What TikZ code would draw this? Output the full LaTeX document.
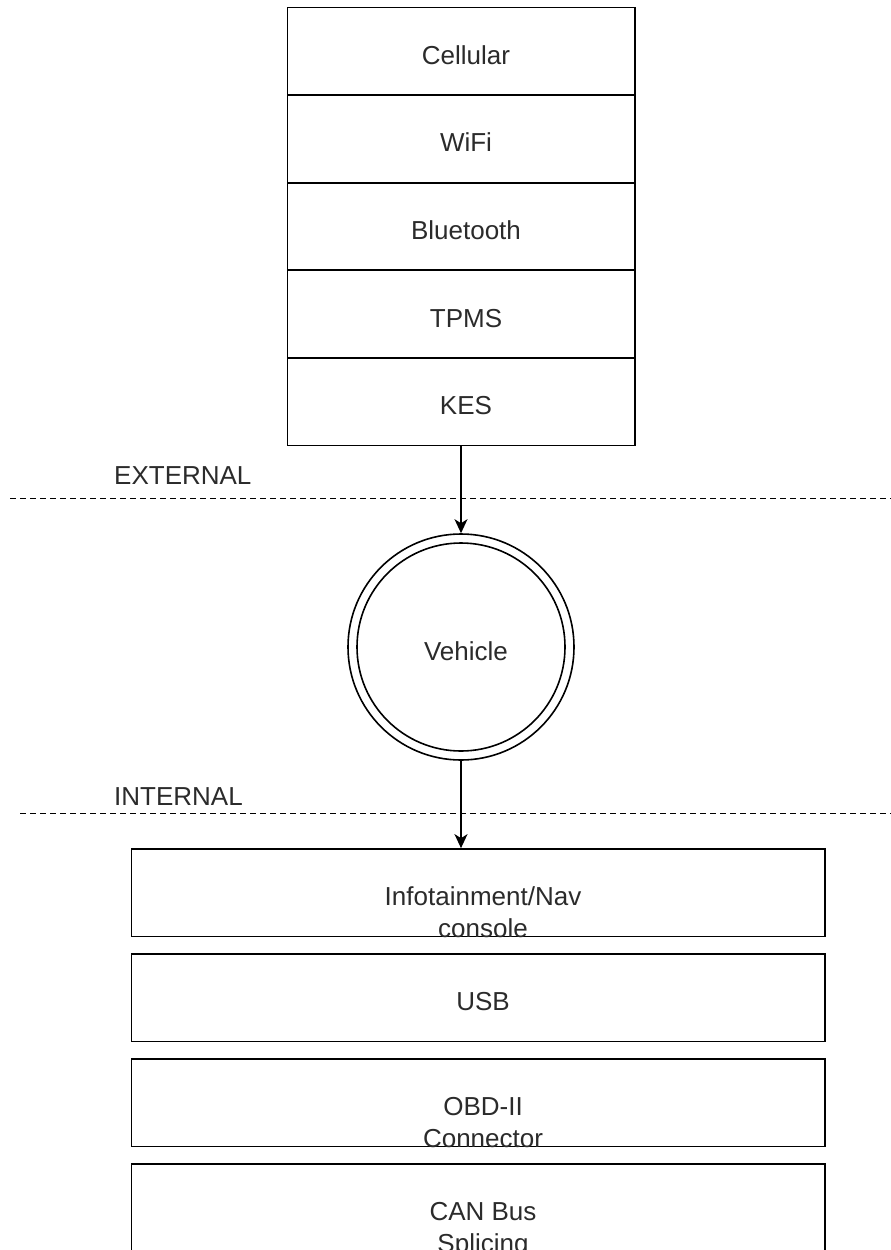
\documentclass[tikz,border=0pt]{standalone}
\usepackage{fontspec}
\setmainfont{Liberation Sans}
\usetikzlibrary{arrows.meta}
\definecolor{inkline}{HTML}{000000}
\definecolor{inktext}{HTML}{2B2B2B}

\begin{document}
\begin{tikzpicture}[x=1pt,y=-1pt,
  layer/.style={draw=inkline, line width=1.7pt, rectangle, inner sep=0pt,
    minimum width=347.5pt, minimum height=87.6pt},
  port/.style={draw=inkline, line width=1.7pt, rectangle, inner sep=0pt,
    minimum width=693.5pt, minimum height=87.6pt},
  hub/.style={draw=inkline, line width=1.6pt, circle, inner sep=0pt,
    minimum size=226pt},
  lbl/.style={anchor=base, text=inktext, inner sep=0pt,
    font=\fontsize{26}{31.3}\selectfont},
  flow/.style={draw=inkline, line width=1.7pt,
    -{Stealth[length=14pt,width=13pt,inset=4pt]}},
  zone/.style={draw=inkline, line width=1.4pt, dash pattern=on 5.5pt off 4.5pt}]

  % canvas
  \useasboundingbox (0,0) rectangle (891,1250);
  \fill[white] (0,0) rectangle (891,1250);

  % external interfaces stack
  \node[layer] (cell) at (461.25,51.3)  {};
  \node[layer] (wifi) at (461.25,138.9) {};
  \node[layer] (bt)   at (461.25,226.5) {};
  \node[layer] (tpms) at (461.25,314.1) {};
  \node[layer] (kes)  at (461.25,401.7) {};
  \node[lbl] (cellT) at (466,64.3)  {Cellular};
  \node[lbl] (wifiT) at (466,151.9) {WiFi};
  \node[lbl] (btT)   at (466,239.5) {Bluetooth};
  \node[lbl] (tpmsT) at (466,327.1) {TPMS};
  \node[lbl] (kesT)  at (466,414.7) {KES};

  % trust boundaries
  \coordinate (extL) at (10,498.3);
  \coordinate (extR) at (891,498.3);
  \coordinate (intL) at (20,813.3);
  \coordinate (intR) at (891,813.3);
  \draw[zone] (extL) -- (extR);
  \draw[zone] (intL) -- (intR);
  \node[lbl, anchor=base west] (extT) at (114,484) {EXTERNAL};
  \node[lbl, anchor=base west] (intT) at (114,805.7) {INTERNAL};

  % vehicle
  \node[hub] (veh) at (461,647) {};
  \draw[inkline, line width=1.6pt] (veh.center) circle (104);
  \node[lbl] (vehT) at (466,660) {Vehicle};

  % internal interfaces
  \node[port] (info) at (478.25,892.8)  {};
  \node[port] (usb)  at (478.25,997.8)  {};
  \node[port] (obd)  at (478.25,1102.8) {};
  \node[port] (can)  at (478.25,1207.8) {};
  \node[lbl] (infoT1) at (483,905.8)  {Infotainment/Nav};
  \node[lbl] (infoT2) at (483,937.1)  {console};
  \node[lbl] (usbT)   at (483,1010.8) {USB};
  \node[lbl] (obdT1)  at (483,1115.8) {OBD-II};
  \node[lbl] (obdT2)  at (483,1147.1) {Connector};
  \node[lbl] (canT1)  at (483,1220.8) {CAN Bus};
  \node[lbl] (canT2)  at (483,1252.1) {Splicing};

  % connectors
  \draw[flow] (kes.south -| veh.north) -- (veh.north);
  \draw[flow] (veh.south) -- (veh.south |- info.north);
\end{tikzpicture}
\end{document}
